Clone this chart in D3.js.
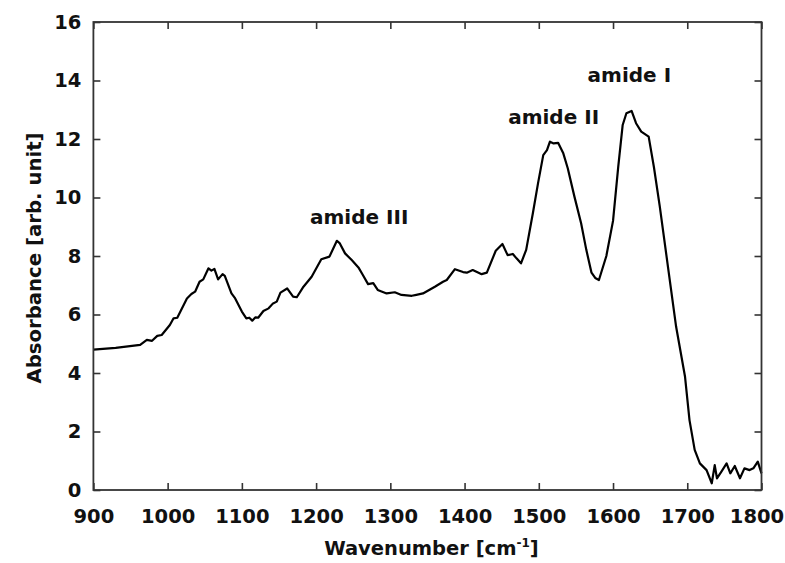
<!DOCTYPE html>
<html>
<head>
<meta charset="utf-8">
<script src="https://cdn.jsdelivr.net/npm/d3@7"></script>
<style>
  html, body { margin: 0; padding: 0; background: #fff; }
  svg { display: block; }
  text { font-family: "DejaVu Sans", Verdana, sans-serif; font-weight: bold; fill: #111; }
</style>
</head>
<body>
<svg id="chart" width="785" height="563"></svg>
<script>
// ---- data ----
const wavenumber = [900, 930, 963, 972, 979, 986, 992, 1003, 1008, 1013, 1026, 1032, 1037, 1043, 1048, 1055, 1059, 1063, 1068, 1074, 1077, 1086, 1091, 1100, 1106, 1110, 1114, 1118, 1122, 1129, 1136, 1142, 1147, 1152, 1161, 1169, 1174, 1183, 1194, 1207, 1218, 1228, 1232, 1239, 1248, 1257, 1263, 1270, 1277, 1283, 1295, 1306, 1315, 1329, 1335, 1344, 1360, 1371, 1376, 1387, 1398, 1403, 1411, 1416, 1423, 1430, 1442, 1451, 1458, 1465, 1470, 1476, 1483, 1492, 1499, 1506, 1511, 1515, 1520, 1526, 1533, 1539, 1548, 1557, 1564, 1571, 1576, 1581, 1591, 1600, 1607, 1613, 1618, 1625, 1631, 1638, 1648, 1655, 1663, 1674, 1685, 1697, 1703, 1710, 1717, 1726, 1733, 1737, 1740, 1746, 1753, 1758, 1764, 1771, 1777, 1784, 1789, 1795, 1800];
const absorbance = [4.80, 4.86, 4.96, 5.13, 5.10, 5.27, 5.30, 5.64, 5.87, 5.89, 6.55, 6.70, 6.78, 7.12, 7.20, 7.58, 7.50, 7.56, 7.20, 7.38, 7.32, 6.72, 6.55, 6.10, 5.87, 5.89, 5.79, 5.90, 5.89, 6.12, 6.21, 6.38, 6.44, 6.75, 6.89, 6.61, 6.59, 6.95, 7.29, 7.89, 7.98, 8.52, 8.43, 8.09, 7.86, 7.61, 7.35, 7.04, 7.07, 6.84, 6.72, 6.76, 6.67, 6.64, 6.67, 6.72, 6.95, 7.12, 7.18, 7.55, 7.45, 7.43, 7.52, 7.46, 7.38, 7.43, 8.18, 8.41, 8.03, 8.07, 7.92, 7.75, 8.21, 9.46, 10.49, 11.45, 11.62, 11.91, 11.85, 11.87, 11.51, 11.00, 10.03, 9.12, 8.21, 7.43, 7.25, 7.18, 8.00, 9.20, 11.05, 12.48, 12.88, 12.96, 12.54, 12.25, 12.08, 11.05, 9.69, 7.63, 5.58, 3.87, 2.39, 1.37, 0.91, 0.68, 0.23, 0.85, 0.40, 0.63, 0.91, 0.57, 0.82, 0.40, 0.74, 0.68, 0.74, 0.97, 0.57];
const xTicks = [900, 1000, 1100, 1200, 1300, 1400, 1500, 1600, 1700, 1800];
const yTicks = [0, 2, 4, 6, 8, 10, 12, 14, 16];
const annotLabels = ["amide III", "amide II", "amide I"];
const annotX = [1258, 1520, 1622];
const annotY = [9.1, 12.51, 13.95];
const xTitle = "Wavenumber [cm";
const xTitleSup = "-1";
const yTitle = "Absorbance [arb. unit]";

// ---- layout ----
const svg = d3.select("#chart");
const L = 93.4, R = 761.5, T = 22, B = 490;
const x = d3.scaleLinear().domain([900, 1800]).range([L, R]);
const y = d3.scaleLinear().domain([0, 16]).range([B, T]);
const axisColor = "#333";

const data = wavenumber.map((w, i) => ({ w, a: absorbance[i] }));

// curve
svg.append("path")
  .datum(data)
  .attr("fill", "none")
  .attr("stroke", "#000")
  .attr("stroke-width", 2.2)
  .attr("stroke-linejoin", "round")
  .attr("d", d3.line().x(d => x(d.w)).y(d => y(d.a)));

function styleAxis(g) {
  g.select(".domain").remove();
  g.selectAll(".tick line").attr("stroke", axisColor).attr("stroke-width", 1.6);
  g.selectAll(".tick text").attr("font-size", 19.5).attr("fill", "#111")
    .attr("font-family", "DejaVu Sans, Verdana, sans-serif").attr("font-weight", "bold");
}

// bottom axis
const gx = svg.append("g").attr("transform", `translate(0,${B})`)
  .call(d3.axisBottom(x).tickValues(xTicks).tickFormat(d3.format("d")).tickSize(-7).tickPadding(19.5))
  .call(styleAxis);
// keep the last label inside the picture, as in the reference
gx.selectAll(".tick text").filter(d => d === 1800).attr("dx", -5);

// top axis (ticks only)
svg.append("g").attr("transform", `translate(0,${T})`)
  .call(d3.axisTop(x).tickValues(xTicks).tickFormat("").tickSize(-7))
  .call(styleAxis);
// left axis
svg.append("g").attr("transform", `translate(${L},0)`)
  .call(d3.axisLeft(y).tickValues(yTicks).tickFormat(d3.format("d")).tickSize(-7).tickPadding(12))
  .call(styleAxis);
// right axis (ticks only)
svg.append("g").attr("transform", `translate(${R},0)`)
  .call(d3.axisRight(y).tickValues(yTicks).tickFormat("").tickSize(-7))
  .call(styleAxis);

// frame
svg.append("rect")
  .attr("x", L).attr("y", T).attr("width", R - L).attr("height", B - T)
  .attr("fill", "none").attr("stroke", axisColor).attr("stroke-width", 1.8);

// annotations
svg.append("g").selectAll("text")
  .data(annotLabels)
  .join("text")
  .attr("x", (d, i) => x(annotX[i]))
  .attr("y", (d, i) => y(annotY[i]))
  .attr("text-anchor", "middle")
  .attr("font-size", 20)
  .text(d => d);

// x title
const xt = svg.append("text")
  .attr("x", (L + R) / 2 + 4).attr("y", 554.5)
  .attr("text-anchor", "middle")
  .attr("font-size", 19.5);
xt.append("tspan").text(xTitle);
xt.append("tspan").attr("font-size", 12).attr("dy", -8).text(xTitleSup);
xt.append("tspan").attr("dy", 8).text("]");

// y title
svg.append("text")
  .attr("transform", `translate(41,${(T + B) / 2 + 2}) rotate(-90)`)
  .attr("text-anchor", "middle")
  .attr("font-size", 19.7)
  .text(yTitle);
</script>
</body>
</html>
